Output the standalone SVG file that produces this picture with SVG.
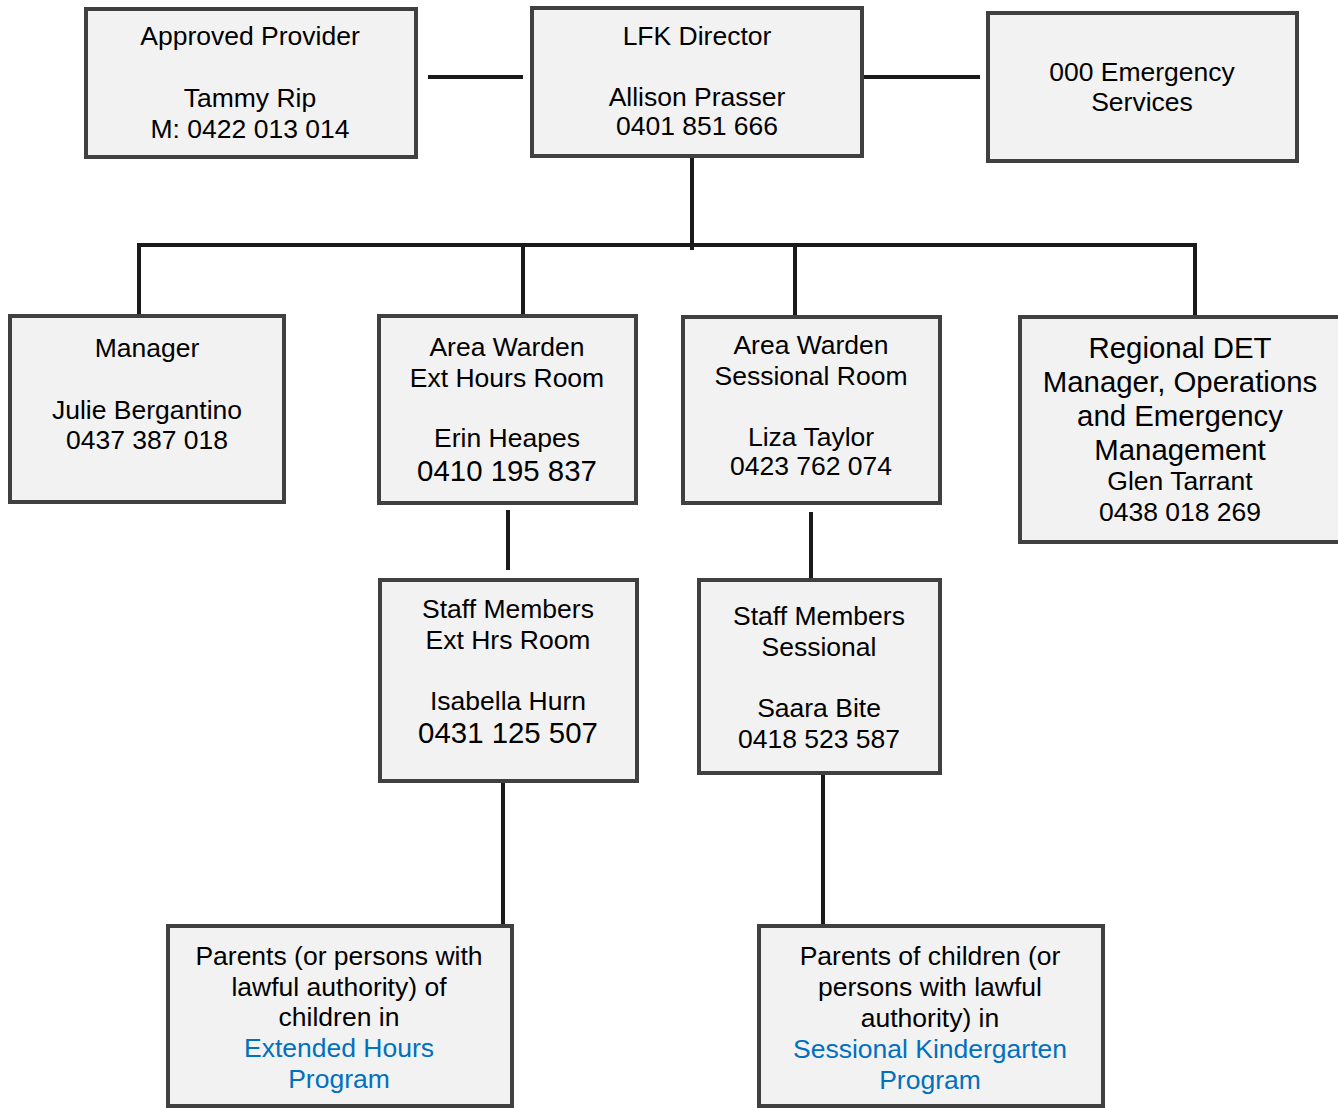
<svg xmlns="http://www.w3.org/2000/svg" width="1338" height="1108" viewBox="0 0 1338 1108">
<style>
.box{fill:#f2f2f2;stroke:#404040;stroke-width:4}
.t{font-family:"Liberation Sans",Arial,sans-serif;font-size:26.5px;fill:#000;text-anchor:middle}
.b{font-size:29.4px}
.blue{fill:#0070c0}
.c{stroke:#1a1a1a;stroke-width:4;fill:none}
</style>
<rect width="1338" height="1108" fill="#fff"/>
<g id="connectors">
<line class="c" x1="428" y1="77" x2="523" y2="77"/>
<line class="c" x1="860" y1="77" x2="980" y2="77"/>
<line class="c" x1="692" y1="156" x2="692" y2="250"/>
<line class="c" x1="137" y1="245" x2="1197" y2="245"/>
<line class="c" x1="139" y1="243" x2="139" y2="316"/>
<line class="c" x1="523" y1="243" x2="523" y2="316"/>
<line class="c" x1="795" y1="243" x2="795" y2="317"/>
<line class="c" x1="1195" y1="243" x2="1195" y2="317"/>
<line class="c" x1="508" y1="510" x2="508" y2="570"/>
<line class="c" x1="811" y1="512" x2="811" y2="580"/>
<line class="c" x1="503" y1="781" x2="503" y2="926"/>
<line class="c" x1="823" y1="773" x2="823" y2="926"/>
</g>
<g id="approved-provider">
<rect class="box" x="86" y="9" width="330" height="148"/>
<text class="t" x="250" y="45">Approved Provider</text>
<text class="t" x="250" y="107">Tammy Rip</text>
<text class="t" x="250" y="138">M: 0422 013 014</text>
</g>
<g id="lfk-director">
<rect class="box" x="532" y="8" width="330" height="148"/>
<text class="t" x="697" y="45">LFK Director</text>
<text class="t" x="697" y="106">Allison Prasser</text>
<text class="t" x="697" y="135">0401 851 666</text>
</g>
<g id="emergency">
<rect class="box" x="988" y="13" width="309" height="148"/>
<text class="t" x="1142" y="81">000 Emergency</text>
<text class="t" x="1142" y="111">Services</text>
</g>
<g id="manager">
<rect class="box" x="10" y="316" width="274" height="186"/>
<text class="t" x="147" y="357">Manager</text>
<text class="t" x="147" y="419">Julie Bergantino</text>
<text class="t" x="147" y="449">0437 387 018</text>
</g>
<g id="warden-ext">
<rect class="box" x="379" y="316" width="257" height="187"/>
<text class="t" x="507" y="356">Area Warden</text>
<text class="t" x="507" y="387">Ext Hours Room</text>
<text class="t" x="507" y="447">Erin Heapes</text>
<text class="t b" x="507" y="481">0410 195 837</text>
</g>
<g id="warden-sessional">
<rect class="box" x="683" y="317" width="257" height="186"/>
<text class="t" x="811" y="354">Area Warden</text>
<text class="t" x="811" y="385">Sessional Room</text>
<text class="t" x="811" y="446">Liza Taylor</text>
<text class="t" x="811" y="475">0423 762 074</text>
</g>
<g id="regional-det">
<rect class="box" x="1020" y="317" width="330" height="225"/>
<text class="t b" x="1180" y="358">Regional DET</text>
<text class="t b" x="1180" y="392">Manager, Operations</text>
<text class="t b" x="1180" y="426">and Emergency</text>
<text class="t b" x="1180" y="460">Management</text>
<text class="t" x="1180" y="490">Glen Tarrant</text>
<text class="t" x="1180" y="521">0438 018 269</text>
</g>
<g id="staff-ext">
<rect class="box" x="380" y="580" width="257" height="201"/>
<text class="t" x="508" y="618">Staff Members</text>
<text class="t" x="508" y="649">Ext Hrs Room</text>
<text class="t" x="508" y="710">Isabella Hurn</text>
<text class="t b" x="508" y="743">0431 125 507</text>
</g>
<g id="staff-sessional">
<rect class="box" x="699" y="580" width="241" height="193"/>
<text class="t" x="819" y="625">Staff Members</text>
<text class="t" x="819" y="656">Sessional</text>
<text class="t" x="819" y="717">Saara Bite</text>
<text class="t" x="819" y="748">0418 523 587</text>
</g>
<g id="parents-ext">
<rect class="box" x="168" y="926" width="344" height="180"/>
<text class="t" x="339" y="965">Parents (or persons with</text>
<text class="t" x="339" y="996">lawful authority) of</text>
<text class="t" x="339" y="1026">children in</text>
<text class="t blue" x="339" y="1057">Extended Hours</text>
<text class="t blue" x="339" y="1088">Program</text>
</g>
<g id="parents-sessional">
<rect class="box" x="759" y="926" width="344" height="180"/>
<text class="t" x="930" y="965">Parents of children (or</text>
<text class="t" x="930" y="996">persons with lawful</text>
<text class="t" x="930" y="1027">authority) in</text>
<text class="t blue" x="930" y="1058">Sessional Kindergarten</text>
<text class="t blue" x="930" y="1089">Program</text>
</g>
</svg>
